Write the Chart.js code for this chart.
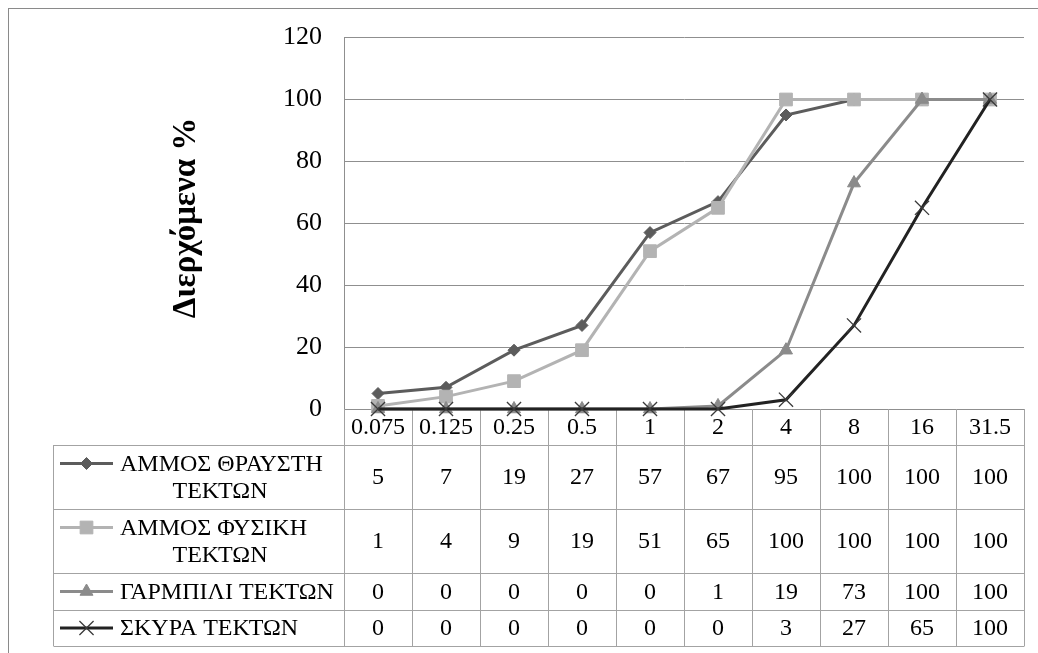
<!DOCTYPE html>
<html>
<head>
<meta charset="utf-8">
<title>Διερχόμενα %</title>
<script src="https://cdn.jsdelivr.net/npm/chart.js@4.4.1/dist/chart.umd.min.js"></script>
<style>
  html, body { margin: 0; padding: 0; background: #ffffff; }
  #wrap { width: 1038px; height: 653px; position: relative; overflow: hidden; }
  canvas { display: block; }
</style>
</head>
<body>
<div id="wrap"><canvas id="grading" width="1038" height="653"></canvas></div>
<script>
// Sieve sizes (mm) and passing percentages for each material
const sieveSizes = ['0.075', '0.125', '0.25', '0.5', '1', '2', '4', '8', '16', '31.5'];
const seriesNames = ['ΑΜΜΟΣ ΘΡΑΥΣΤΗ ΤΕΚΤΩΝ', 'ΑΜΜΟΣ ΦΥΣΙΚΗ ΤΕΚΤΩΝ', 'ΓΑΡΜΠΙΛΙ ΤΕΚΤΩΝ', 'ΣΚΥΡΑ ΤΕΚΤΩΝ'];
const crushedSand  = [5, 7, 19, 27, 57, 67, 95, 100, 100, 100];
const naturalSand  = [1, 4, 9, 19, 51, 65, 100, 100, 100, 100];
const gravel       = [0, 0, 0, 0, 0, 1, 19, 73, 100, 100];
const crushedStone = [0, 0, 0, 0, 0, 0, 3, 27, 65, 100];
const yTicks = [0, 20, 40, 60, 80, 100, 120];
const yTitle = 'Διερχόμενα %';

const SERIF = "'Liberation Serif', 'Times New Roman', serif";

const styles = [
  { color: '#5c5c5c', pointStyle: 'rectRot',  radius: 6,   pointBorderWidth: 1 },
  { color: '#b3b3b3', pointStyle: 'rect',     radius: 9,   pointBorderWidth: 1 },
  { color: '#8b8b8b', pointStyle: 'triangle', radius: 7.5, pointBorderWidth: 1 },
  { color: '#222222', pointStyle: 'crossRot', radius: 10,  pointBorderWidth: 1.3, pointColor: '#3a3a3a' }
];
const seriesValues = [crushedSand, naturalSand, gravel, crushedStone];

const datasets = seriesValues.map((vals, i) => {
  const s = styles[i];
  return {
    label: seriesNames[i],
    data: vals,
    borderColor: s.color,
    backgroundColor: s.color,
    borderWidth: 3,
    tension: 0,
    pointStyle: s.pointStyle,
    pointRadius: s.radius,
    pointHoverRadius: s.radius,
    pointBackgroundColor: s.pointColor || s.color,
    pointBorderColor: s.pointColor || s.color,
    pointBorderWidth: s.pointBorderWidth,
    clip: false,
    order: seriesValues.length - 1 - i
  };
});

const TABLE = {
  headerH: 36,
  rowH: [64, 64, 37, 36],
  legendLeft: 53,
  keyX0: 60,
  keyX1: 113,
  textX: 120,
  textMaxW: 222,
  lineGap: 27,
  border: '#a3a3a3',
  font: '24px ' + SERIF
};

function wrapName(ctx, name) {
  if (ctx.measureText(name).width <= TABLE.textMaxW) return [name];
  const cut = name.lastIndexOf(' ');
  return [name.slice(0, cut), name.slice(cut + 1)];
}

// Legend key: a short line segment with the series marker in its middle
function drawKey(ctx, i, y) {
  const s = styles[i];
  ctx.save();
  ctx.strokeStyle = s.color;
  ctx.lineWidth = 3;
  ctx.beginPath();
  ctx.moveTo(TABLE.keyX0, y);
  ctx.lineTo(TABLE.keyX1, y);
  ctx.stroke();
  ctx.fillStyle = s.pointColor || s.color;
  ctx.strokeStyle = s.pointColor || s.color;
  ctx.lineWidth = s.pointBorderWidth;
  Chart.helpers.drawPoint(ctx, {
    pointStyle: s.pointStyle,
    radius: s.radius,
    rotation: 0,
    borderWidth: s.pointBorderWidth
  }, (TABLE.keyX0 + TABLE.keyX1) / 2, y);
  ctx.restore();
}

// Draws the outer frame, the rotated axis title and the data table beneath the plot
const tablePlugin = {
  id: 'gradingTable',
  beforeDraw(chart) {
    const ctx = chart.ctx;
    ctx.save();
    ctx.fillStyle = '#ffffff';
    ctx.fillRect(0, 0, chart.width, chart.height);
    ctx.strokeStyle = '#8a8a8a';
    ctx.lineWidth = 1;
    ctx.strokeRect(8.5, 8.5, chart.width + 20, chart.height + 20);
    ctx.restore();
  },
  beforeDatasetsDraw(chart) {
    const ctx = chart.ctx;
    const area = chart.chartArea;
    const xs = chart.scales.x;
    const n = sieveSizes.length;
    const colW = (area.right - area.left) / n;
    const top = Math.round(area.bottom);
    const headBottom = top + TABLE.headerH;
    const rowTops = [headBottom];
    TABLE.rowH.forEach(h => rowTops.push(rowTops[rowTops.length - 1] + h));
    const bottom = rowTops[rowTops.length - 1];
    const px = v => Math.round(v) + 0.5;

    ctx.save();
    // axis title
    ctx.save();
    ctx.translate(186, 218);
    ctx.rotate(-Math.PI / 2);
    ctx.font = 'bold 33px ' + SERIF;
    ctx.fillStyle = '#000000';
    ctx.textAlign = 'center';
    ctx.textBaseline = 'middle';
    ctx.fillText(yTitle, 0, 0);
    ctx.restore();

    // grid of the table
    ctx.strokeStyle = TABLE.border;
    ctx.lineWidth = 1;
    ctx.beginPath();
    for (let i = 0; i <= n; i++) {
      const x = px(area.left + i * colW);
      ctx.moveTo(x, top);
      ctx.lineTo(x, bottom);
    }
    ctx.moveTo(px(TABLE.legendLeft), headBottom);
    ctx.lineTo(px(TABLE.legendLeft), bottom);
    rowTops.forEach(y => {
      ctx.moveTo(px(TABLE.legendLeft), px(y));
      ctx.lineTo(px(area.right), px(y));
    });
    ctx.stroke();

    // header: sieve sizes
    ctx.font = TABLE.font;
    ctx.fillStyle = '#000000';
    ctx.textAlign = 'center';
    ctx.textBaseline = 'middle';
    sieveSizes.forEach((lab, i) => {
      ctx.fillText(lab, xs.getPixelForValue(i), top + TABLE.headerH / 2 + 1);
    });

    // rows: legend key + values
    seriesValues.forEach((vals, r) => {
      const y0 = rowTops[r], y1 = rowTops[r + 1];
      const cy = (y0 + y1) / 2;
      ctx.font = TABLE.font;
      ctx.fillStyle = '#000000';
      ctx.textBaseline = 'middle';
      ctx.textAlign = 'center';
      vals.forEach((v, i) => ctx.fillText(String(v), xs.getPixelForValue(i), cy + 1));

      const lines = wrapName(ctx, seriesNames[r]);
      const firstY = cy - (lines.length - 1) * TABLE.lineGap / 2;
      lines.forEach((ln, k) => {
        const y = firstY + k * TABLE.lineGap + 1;
        if (k === 0) {
          ctx.textAlign = 'left';
          ctx.fillText(ln, TABLE.textX, y);
        } else {
          ctx.textAlign = 'center';
          ctx.fillText(ln, 220, y);
        }
      });
      drawKey(ctx, r, firstY);
    });
    ctx.restore();
  }
};

new Chart(document.getElementById('grading'), {
  type: 'line',
  data: { labels: sieveSizes, datasets },
  options: {
    responsive: false,
    animation: false,
    devicePixelRatio: 1,
    layout: { padding: { left: 0, top: 37, right: 14, bottom: 244 } },
    plugins: {
      legend: { display: false },
      tooltip: { enabled: false },
      title: { display: false }
    },
    scales: {
      x: {
        display: false,
        offset: true
      },
      y: {
        min: 0,
        max: 120,
        afterFit(scale) { scale.width = 344; },
        afterBuildTicks(scale) { scale.ticks = yTicks.map(v => ({ value: v })); },
        grid: { color: '#8f8f8f', lineWidth: 1, drawTicks: false },
        border: { display: true, color: '#8f8f8f', width: 1 },
        ticks: {
          padding: 22,
          color: '#000000',
          font: { family: SERIF, size: 26 }
        }
      }
    }
  },
  plugins: [tablePlugin]
});
</script>
</body>
</html>
